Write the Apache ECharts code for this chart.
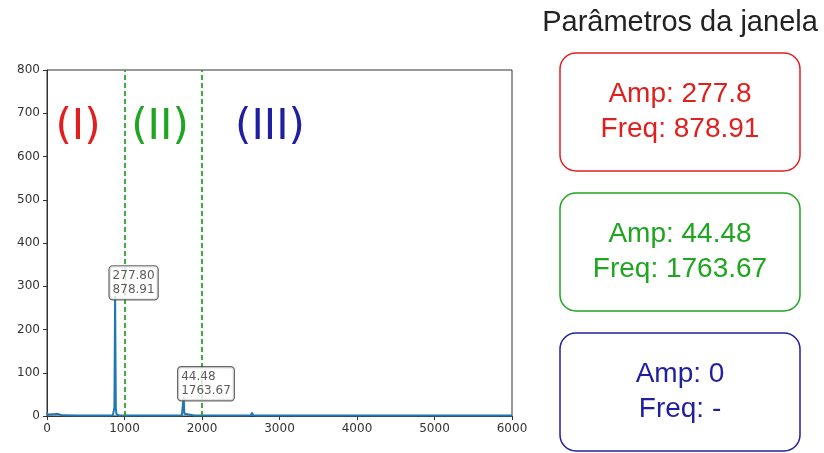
<!DOCTYPE html>
<html>
<head>
<meta charset="utf-8">
<script src="https://cdn.jsdelivr.net/npm/echarts@6/dist/echarts.min.js"></script>
<style>
  html, body { margin: 0; padding: 0; background: #fff; }
  #chart { width: 824px; height: 453px; }
</style>
</head>
<body>
<div id="chart"></div>
<script>
// Magnitude spectrum (frequency in Hz, amplitude)
const freqs = [0, 10, 20, 60, 100, 140, 150, 160, 200, 400, 600, 800, 850, 862, 870, 878.91, 888, 896, 905, 915, 930,
               1000, 1300, 1600, 1740, 1752, 1763.67, 1772, 1785, 1900, 2300, 2600, 2630, 2645, 2660, 2700,
               3000, 3500, 4000, 4500, 5000, 5500, 6000];
const amps  = [8, 3, 4, 4, 4, 5, 6, 3, 1.5, 1, 1, 1, 1.5, 4, 20, 277.8, 18, 4, 5, 2, 1,
               1, 1, 1, 1.5, 4, 44.48, 5, 1.5, 1, 1, 1, 1.5, 8, 1.5, 1,
               1, 1, 1, 1, 1, 1, 1];

// Window boundaries (Hz)
const windowEdges = [1000, 2000];

// Detected peaks shown on the spectrum
const peakFreqs = [878.91, 1763.67];
const peakAmps  = [277.80, 44.48];

// Per-window parameters
const windowNames  = ['(I)', '(II)', '(III)'];
const windowColors = ['#e0201f', '#1fa51f', '#1f1fa0'];
const windowAmp    = ['277.8', '44.48', '0'];
const windowFreq   = ['878.91', '1763.67', '-'];
const panelTitle   = 'Parâmetros da janela';

// Axis ticks
const xTicks = { min: 0, max: 6000, step: 1000 };
const yTicks = { min: 0, max: 800, step: 100 };

const chart = echarts.init(document.getElementById('chart'), null, { renderer: 'canvas' });

const axisText = { color: '#333', fontSize: 12, fontFamily: 'DejaVu Sans', formatter: v => String(v) };

const grid = { left: 47, right: 312, top: 70, bottom: 37 };

const graphics = [];
// Window labels inside the plot
const numeralX = [78, 160, 270];
windowNames.forEach((t, i) => {
  graphics.push({
    type: 'text', x: numeralX[i], y: 128,
    style: {
      text: t, fill: windowColors[i], font: '42px "DejaVu Sans"',
      textAlign: 'center', textVerticalAlign: 'middle'
    }
  });
});
// Panel title
graphics.push({
  type: 'text', x: 680, y: 23,
  style: { text: panelTitle, fill: '#222', font: '29px "Liberation Sans"', textAlign: 'center', textVerticalAlign: 'middle' }
});
// Parameter boxes
const boxTops = [53, 193, 333];
windowNames.forEach((t, i) => {
  graphics.push({
    type: 'rect',
    shape: { x: 560, y: boxTops[i], width: 240, height: 118, r: 16 },
    style: { fill: '#fff', stroke: windowColors[i], lineWidth: 1.5 }
  });
  graphics.push({
    type: 'text', x: 680, y: boxTops[i] + 59,
    style: {
      text: 'Amp: ' + windowAmp[i] + '\nFreq: ' + windowFreq[i],
      fill: windowColors[i], font: '28px "Liberation Sans"', lineHeight: 35,
      textAlign: 'center', textVerticalAlign: 'middle'
    }
  });
});

chart.setOption({
  animation: false,
  backgroundColor: '#fff',
  grid: Object.assign({ show: true, borderColor: '#333', borderWidth: 1, backgroundColor: 'transparent' }, grid),
  xAxis: {
    type: 'value', min: xTicks.min, max: xTicks.max, interval: xTicks.step,
    axisLine: { show: true, onZero: false, lineStyle: { color: '#333', width: 1 } },
    axisTick: { show: true, inside: false, length: 4, lineStyle: { color: '#333' } },
    axisLabel: Object.assign({ margin: 7 }, axisText),
    splitLine: { show: false }
  },
  yAxis: {
    type: 'value', min: yTicks.min, max: yTicks.max, interval: yTicks.step,
    axisLine: { show: true, lineStyle: { color: '#333', width: 1 } },
    axisTick: { show: true, inside: false, length: 4, lineStyle: { color: '#333' } },
    axisLabel: Object.assign({ margin: 7 }, axisText),
    splitLine: { show: false }
  },
  series: [
    {
      type: 'line',
      data: freqs.map((f, i) => [f, amps[i]]),
      showSymbol: false,
      lineStyle: { color: '#1f77b4', width: 2 },
      z: 3,
      markLine: {
        silent: true, symbol: 'none',
        label: { show: false },
        lineStyle: { color: '#2ca02c', type: [5, 3], width: 1.8 },
        data: windowEdges.map(x => ({ xAxis: x }))
      }
    },
    {
      type: 'scatter',
      data: peakFreqs.map((f, i) => [f, peakAmps[i]]),
      symbolSize: 1,
      itemStyle: { color: 'transparent' },
      z: 5,
      label: {
        show: true,
        position: [-5, -29],
        align: 'left', verticalAlign: 'top',
        formatter: p => p.value[1].toFixed(2) + '\n' + p.value[0].toFixed(2),
        color: '#333', fontSize: 12, fontFamily: 'DejaVu Sans', lineHeight: 14,
        backgroundColor: '#fff', borderColor: '#444', borderWidth: 1.2, borderRadius: 3,
        padding: [3, 3, 2, 3]
      }
    }
  ],
  graphic: graphics
});
</script>
</body>
</html>
